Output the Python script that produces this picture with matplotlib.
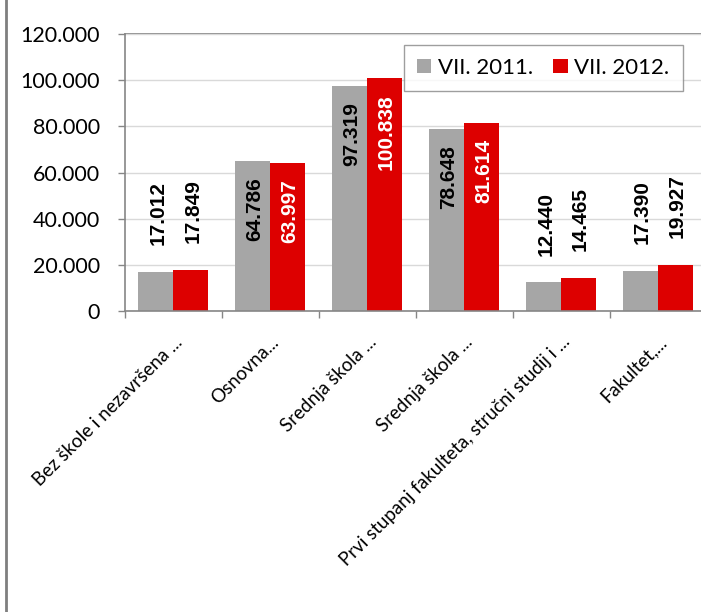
import matplotlib.pyplot as plt
from matplotlib.lines import Line2D
from matplotlib.ticker import FuncFormatter
import numpy as np

plt.rcParams['font.family'] = ['Lato', 'DejaVu Sans']

categories = ['Bez škole i nezavršena ...', 'Osnovna...', 'Srednja škola ...',
              'Srednja škola ...', 'Prvi stupanj fakulteta, stručni studij i ...',
              'Fakultet,...']
v2011 = [17012, 64786, 97319, 78648, 12440, 17390]
v2012 = [17849, 63997, 100838, 81614, 14465, 19927]
series_names = ['VII. 2011.', 'VII. 2012.']

grey = '#A6A6A6'
red = '#DD0000'
axis_col = '#868686'

fig = plt.figure(figsize=(7.01, 6.12), dpi=100)
ax = fig.add_axes([0.178, 0.4918, 0.83, 0.4526])

x = np.arange(len(categories))
w = 0.36
b1 = ax.bar(x - w / 2, v2011, w, color=grey, label=series_names[0], zorder=2)
b2 = ax.bar(x + w / 2, v2012, w, color=red, label=series_names[1], zorder=2)


def fmt(v):
    return f'{v:,}'.replace(',', '.')


# data labels: inside the bar end for tall bars, above it for short ones
inside_limit = 40000
lab_font = ['Liberation Sans', 'DejaVu Sans']
for bars, vals, inner_col in [(b1, v2011, 'black'), (b2, v2012, 'white')]:
    for rect, v in zip(bars, vals):
        cx = rect.get_x() + rect.get_width() / 2 + 0.02
        if v > inside_limit:
            ax.text(cx, v - 6900, fmt(v), rotation=90, ha='center', va='top',
                    fontsize=15, fontweight='bold', color=inner_col,
                    family=lab_font, zorder=3)
        else:
            ax.text(cx, v + 11500, fmt(v), rotation=90, ha='center', va='bottom',
                    fontsize=15, fontweight='bold', color='black',
                    family=lab_font, zorder=3)

ax.set_ylim(0, 120000)
ax.set_xlim(-0.5, len(categories) - 0.5)
ax.set_yticks(np.arange(0, 120001, 20000))
ax.yaxis.set_major_formatter(FuncFormatter(lambda v, p: fmt(int(v))))
ax.tick_params(axis='y', labelsize=15.5, length=5, color=axis_col, width=1, pad=13)
ax.grid(axis='y', color='#D9D9D9', linewidth=1, zorder=0)

ax.set_xticks(x)
ax.set_xticklabels(categories, rotation=45, ha='right', rotation_mode='anchor',
                   fontsize=13.5)
ax.tick_params(axis='x', which='major', length=0, pad=16)
ax.set_xticks(np.arange(-0.5, len(categories)), minor=True)
ax.tick_params(axis='x', which='minor', length=5, color=axis_col, width=1)

for s in ['top', 'right']:
    ax.spines[s].set_visible(False)
for s in ['left', 'bottom']:
    ax.spines[s].set_color(axis_col)
    ax.spines[s].set_linewidth(1.2)
ax.axhline(120000, color=axis_col, linewidth=1.2, zorder=1, clip_on=False)

leg = ax.legend(loc='upper right', bbox_to_anchor=(0.959, 0.962), ncol=2,
                fontsize=16, frameon=True, fancybox=False, handlelength=0.65,
                handleheight=0.65, handletextpad=0.3, columnspacing=0.9,
                borderpad=0.6, borderaxespad=0)
leg.get_frame().set_edgecolor(axis_col)
leg.get_frame().set_linewidth(1)
leg.set_zorder(5)

fig.add_artist(Line2D([0.009, 0.009], [0, 1], transform=fig.transFigure,
                      color='#7F7F7F', linewidth=2))

fig.savefig('out.png', dpi=100)
